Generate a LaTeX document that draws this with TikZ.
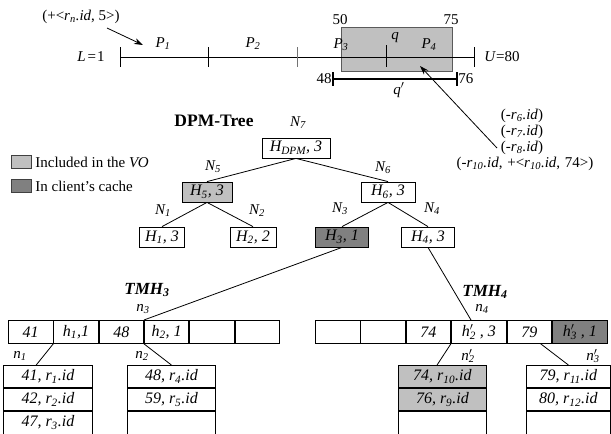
\documentclass[tikz,border=0pt]{standalone}
\usepackage{fontspec}
\setmainfont{Liberation Serif}
\usetikzlibrary{arrows.meta,calc}

\definecolor{voGray}{RGB}{192,192,192}
\definecolor{cacheGray}{RGB}{128,128,128}
\definecolor{rectEdge}{RGB}{90,90,90}

\newcommand\basefont{\fontsize{15}{18}\selectfont}
\newcommand\boxfont{\fontsize{16}{19}\selectfont}
\newcommand\sbs[1]{\textsubscript{#1}}
\newcommand\prs[1]{\rlap{$^{\prime}$}\textsubscript{#1}}

\tikzset{
  every node/.append style={font=\basefont},
  lbl/.style={font=\basefont\itshape, inner sep=0pt},
  treebox/.style={draw, fill=white, minimum height=20pt, inner sep=0pt, font=\boxfont\itshape},
  cell/.style={draw, fill=white, minimum width=44.5pt, minimum height=23pt, inner sep=0pt, anchor=north west, font=\boxfont\itshape},
  wcell/.style={cell, minimum width=55pt},
  leaf/.style={draw, fill=white, minimum width=89pt, minimum height=22.3pt, inner sep=0pt, anchor=north west, font=\boxfont\itshape},
  pointer/.style={-{Stealth[length=9pt,width=6pt]}},
  vo/.style={fill=voGray},
  cache/.style={fill=cacheGray},
  keybox/.style={draw=black!75, minimum width=20pt, minimum height=13pt, inner sep=0pt},
  title/.style={font=\bfseries\fontsize{17.5}{20}\selectfont, inner sep=0pt},
  tmh/.style={font=\bfseries\itshape\fontsize{17}{20}\selectfont, inner sep=0pt}
}

\begin{document}
\begin{tikzpicture}[x=1pt, y=-1pt, line width=0.8pt]
\useasboundingbox (0,0) rectangle (611,434);

% ---------- key domain [L,U] with partitions and query ranges ----------
\node[draw=rectEdge, fill=voGray, minimum width=111pt, minimum height=44pt, inner sep=0pt] (qrect) at (396.5,49) {};
\coordinate (lo) at (120,57);
\coordinate (hi) at (474,57);
\draw (lo) -- (hi);
\foreach \x in {120,208,474} \draw (\x,47) -- (\x,67);
\draw[black!55] (297,47) -- (297,67);
\draw (386,45) -- (386,67);

\node (Lval) at (91,57) {\textit{L}\hspace{2pt}=\hspace{1pt}1};
\node (Uval) at (502,57) {\textit{U}=80};
\node[lbl] (p1lab) at (163,44) {P\sbs{1}};
\node[lbl] (p2lab) at (253,44) {P\sbs{2}};
\node[lbl] (p3lab) at (341,45) {P\sbs{3}};
\node[lbl] (p4lab) at (429,45) {P\sbs{4}};
\node[lbl] (qlab) at (395,38) {q};
\node (v50) at (340,20) {50};
\node (v75) at (451,20) {75};

\coordinate (qa) at (333,79);
\coordinate (qb) at (457,79);
\draw[line width=2.4pt] (qa) -- (qb);
\draw[line width=2pt] (333,72) -- (333,86) (457,72) -- (457,86);
\node[anchor=east, inner sep=1pt] (v48) at (qa) {48};
\node[anchor=west, inner sep=1pt] (v76) at (qb) {76};
\node[lbl] (qplab) at (399,90) {q$'$};

% insertion annotation
\node (ins) at (81,17) {(+<\textit{r\sbs{n}.id}, 5>)};
\coordinate (insTail) at (107,28);
\coordinate (insTip) at (143,45);
\draw[pointer] (insTail) -- (insTip);

% deletion annotations
\node (del6) at (522,116) {(-\textit{r\sbs{6}.id})};
\node (del7) at (522,132) {(-\textit{r\sbs{7}.id})};
\node (del8) at (522,148) {(-\textit{r\sbs{8}.id})};
\node (del10) at (525,164) {(-\textit{r\sbs{10}.id}, \hspace{1pt}+<\textit{r\sbs{10}.id}, \hspace{1pt}74>)};
\coordinate (delTail) at (497,148);
\coordinate (delTip) at (420,66);
\draw[pointer] (delTail) -- (delTip);

% ---------- legend ----------
\node[keybox, vo] (key1) at (21,161.5) {};
\node[keybox, cache] (key2) at (21,185.5) {};
\node[anchor=west, inner sep=0pt] (key1txt) at (35,162) {Included in the \textit{VO}};
\node[anchor=west, inner sep=0pt] (key2txt) at (35,186) {In client’s cache};

% ---------- DPM-Tree ----------
\node[title] (dpm) at (214,121) {DPM-Tree};
\node[treebox, minimum width=68pt] (N7) at (296,148) {H\sbs{DPM}, 3};
\node[treebox, vo, minimum width=50pt] (N5) at (207,192) {H\sbs{5}, 3};
\node[treebox, minimum width=54pt] (N6) at (388,192) {H\sbs{6}, 3};
\node[treebox, minimum width=45pt] (N1) at (162,237) {H\sbs{1}, 3};
\node[treebox, minimum width=46pt] (N2) at (253,237) {H\sbs{2}, 2};
\node[treebox, cache, minimum width=53pt] (N3) at (342,237) {H\sbs{3}, 1};
\node[treebox, minimum width=53pt] (N4) at (428,237) {H\sbs{4}, 3};

\node[lbl] at (298,123) {N\sbs{7}};
\node[lbl] at (213,167) {N\sbs{5}};
\node[lbl] at (383,168) {N\sbs{6}};
\node[lbl] at (163,211) {N\sbs{1}};
\node[lbl] at (257,211) {N\sbs{2}};
\node[lbl] at (340,209) {N\sbs{3}};
\node[lbl] at (432,209) {N\sbs{4}};

\draw (N7.south) -- (N5.north);
\draw (N7.south) -- (N6.north);
\draw (N5.south) -- (N1.north);
\draw (N5.south) -- (N2.north);
\draw (N6.south) -- (N3.north);
\draw (N6.south) -- (N4.north);

% ---------- TMH3 ----------
\node[tmh] (tmh3) at (147,290) {TMH\sbs{3}};
\node[lbl] at (143,309) {n\sbs{3}};
\node[cell] (a1) at (8,320) {41};
\node[cell] (a2) at (a1.north east) {h\sbs{1},1};
\node[cell] (a3) at (a2.north east) {48};
\node[cell] (a4) at (a3.north east) {h\sbs{2}, 1};
\node[cell] (a5) at (a4.north east) {};
\node[cell] (a6) at (a5.north east) {};

\node[lbl] at (20,356) {n\sbs{1}};
\node[leaf] (u1) at (3,365) {41, r\sbs{1}.id};
\node[leaf] (u2) at (u1.south west) {42, r\sbs{2}.id};
\node[leaf] (u3) at (u2.south west) {47, r\sbs{3}.id};

\node[lbl] at (142,356) {n\sbs{2}};
\node[leaf, minimum width=88pt] (v1) at (127,365) {48, r\sbs{4}.id};
\node[leaf, minimum width=88pt] (v2) at (v1.south west) {59, r\sbs{5}.id};
\node[leaf, minimum width=88pt] (v3) at (v2.south west) {};

\draw (N3.south) -- (a3.north east);
\draw (a1.south east) -- ($(u1.north west)!0.37!(u1.north east)$);
\draw (a3.south east) -- (v1.north);

% ---------- TMH4 ----------
\node[tmh] (tmh4) at (485,292) {TMH\sbs{4}};
\node[lbl] at (482,309) {n\sbs{4}};
\node[cell] (b1) at (315,320) {};
\node[cell] (b2) at (b1.north east) {};
\node[cell] (b3) at (b2.north east) {74};
\node[wcell] (b4) at (b3.north east) {h\prs{2} , 3};
\node[cell] (b5) at (b4.north east) {79};
\node[wcell, cache] (b6) at (b5.north east) {h\prs{3} , 1};

\node[lbl] at (468,356) {n\prs{2}};
\node[leaf, vo, minimum width=88pt] (w1) at (398,365) {74, r\sbs{10}.id};
\node[leaf, vo, minimum width=88pt] (w2) at (w1.south west) {76, r\sbs{9}.id};
\node[leaf, minimum width=88pt] (w3) at (w2.south west) {};

\node[lbl] at (593,356) {n\prs{3}};
\node[leaf, minimum width=84pt] (s1) at (526,365) {79, r\sbs{11}.id};
\node[leaf, minimum width=84pt] (s2) at (s1.south west) {80, r\sbs{12}.id};
\node[leaf, minimum width=84pt] (s3) at (s2.south west) {};

\draw (N4.south) -- ($(b4.north west)!0.36!(b4.north east)$);
\draw (b3.south east) -- ($(w1.north west)!0.44!(w1.north east)$);
\draw ($(b5.south west)!0.75!(b5.south east)$) -- (s1.north);

\end{tikzpicture}
\end{document}
